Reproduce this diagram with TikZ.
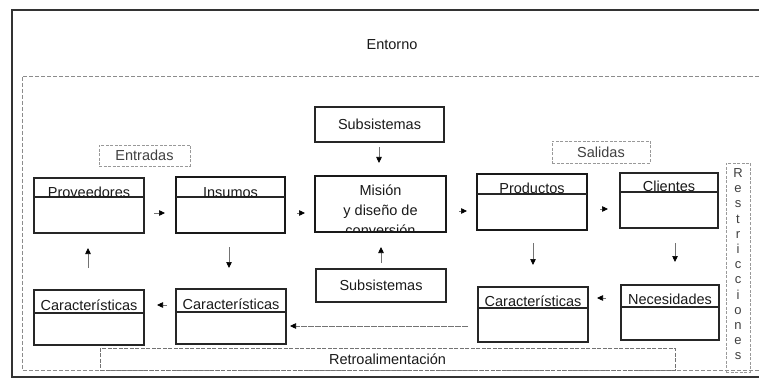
\documentclass[tikz,border=0pt]{standalone}
\usepackage{fontspec}
\setmainfont{Liberation Sans}
\usetikzlibrary{arrows.meta}

\begin{document}
\begin{tikzpicture}[x=1pt,y=-1pt,
  every node/.style={inner sep=0pt, outer sep=0pt, text=black!90,
    font=\fontsize{14.5}{17}\selectfont},
  thinbox/.style={draw=black!85, line width=1.4pt, rectangle},
  midbox/.style={draw=black!85, line width=1.9pt, rectangle},
  thickbox/.style={draw=black!90, line width=2.7pt, rectangle},
  tagbox/.style={draw=black!40, line width=0.8pt, dash pattern=on 3pt off 1.5pt, rectangle, text=black!75},
  divline/.style={draw=black!85, line width=1.3pt},
  band/.style={draw=black!55, line width=0.9pt, dash pattern=on 4pt off 1.5pt, rectangle},
  area/.style={draw=black!45, line width=0.8pt, dash pattern=on 4pt off 2pt},
  arr/.style={draw=black!55, line width=0.7pt, -{Triangle[length=6pt,width=5.5pt,color=black]}}
]
\useasboundingbox (0,0) rectangle (759,379);

% environment frame and inner system area
\draw[black!80, line width=1.5pt] (759,10) -- (12,10) -- (12,377) -- (759,377);
\draw[area] (759,76) -- (22,76) -- (22,370) -- (759,370);
\node (entorno) at (392,45) {Entorno};

% feedback band
\node[band, minimum width=575pt, minimum height=22pt] (retro) at (387.5,359) {Retroalimentación};

% labels
\node[tagbox, minimum width=91pt, minimum height=21pt] (entr) at (144.5,155.5) {Entradas};
\node[tagbox, minimum width=98pt, minimum height=22pt] (sal) at (601,152) {Salidas};
\node[tagbox, minimum width=24pt, minimum height=209pt] (restr) at (738,267.5) {};
\node[anchor=north, align=center, font=\fontsize{13}{15.2}\selectfont, text=black!75] (restrt)
  at ([yshift=-5.5pt]restr.north) {R\\e\\s\\t\\r\\i\\c\\c\\i\\o\\n\\e\\s};

% subsystems
\node[thinbox, minimum width=129pt, minimum height=35pt] (subT) at (379.5,124.5) {Subsistemas};
\node[thinbox, minimum width=130pt, minimum height=33pt] (subB) at (381,285.5) {Subsistemas};

% top row
\node[thinbox, minimum width=110pt, minimum height=55pt] (prov) at (89,205.5) {};
\draw[divline] ([yshift=-19pt]prov.north west) -- ([yshift=-19pt]prov.north east);
\node[anchor=base] (provt) at ([yshift=-19pt]prov.north) {Proveedores};

\node[thickbox, minimum width=109pt, minimum height=56pt] (ins) at (230.5,205) {};
\draw[divline] ([yshift=-20pt]ins.north west) -- ([yshift=-20pt]ins.north east);
\node[anchor=base] (inst) at ([yshift=-20pt]ins.north) {Insumos};

\node[minimum width=131pt, minimum height=56pt] (misarea) at (380.5,204) {};
\begin{scope}
  \clip ([xshift=1.3pt,yshift=1.3pt]misarea.south west) rectangle ([xshift=-1.3pt,yshift=-1.3pt]misarea.north east);
  \node[anchor=north, align=center, font=\fontsize{14.5}{20}\selectfont] (mist)
    at ([yshift=-8.5pt]misarea.north) {Misión\\y diseño de\\conversión};
\end{scope}
\node[thickbox, minimum width=131pt, minimum height=56pt] (mis) at (380.5,204) {};

\node[thickbox, minimum width=110pt, minimum height=56pt] (prod) at (532,202) {};
\draw[divline] ([yshift=-20pt]prod.north west) -- ([yshift=-20pt]prod.north east);
\node[anchor=base] (prodt) at ([yshift=-20pt]prod.north) {Productos};

\node[midbox, minimum width=98pt, minimum height=55pt] (cli) at (669,200.5) {};
\draw[divline] ([yshift=-19pt]cli.north west) -- ([yshift=-19pt]cli.north east);
\node[anchor=base] (clit) at ([yshift=-19pt]cli.north) {Clientes};

% bottom row
\node[midbox, minimum width=110pt, minimum height=55pt] (char1) at (89,317.5) {};
\draw[divline] ([yshift=-23pt]char1.north west) -- ([yshift=-23pt]char1.north east);
\node[anchor=base] (char1t) at ([yshift=-20pt]char1.north) {Características};

\node[midbox, minimum width=110pt, minimum height=55pt] (char2) at (231,316.5) {};
\draw[divline] ([yshift=-23pt]char2.north west) -- ([yshift=-23pt]char2.north east);
\node[anchor=base] (char2t) at ([yshift=-20pt]char2.north) {Características};

\node[midbox, minimum width=110pt, minimum height=55pt] (char3) at (533,314.5) {};
\draw[divline] ([yshift=-21pt]char3.north west) -- ([yshift=-21pt]char3.north east);
\node[anchor=base] (char3t) at ([yshift=-19pt]char3.north) {Características};

\node[midbox, minimum width=98pt, minimum height=55pt] (nec) at (670,312.5) {};
\draw[divline] ([yshift=-22pt]nec.north west) -- ([yshift=-22pt]nec.north east);
\node[anchor=base] (nect) at ([yshift=-19pt]nec.north) {Necesidades};

% flow arrows
\draw[arr, shorten <=10pt, shorten >=11pt] ([yshift=-7.5pt]prov.east) -- ([yshift=-8pt]ins.west);
\draw[arr, shorten <=12pt, shorten >=10pt] ([yshift=-8pt]ins.east) -- ([yshift=-9pt]mis.west);
\draw[arr, shorten <=13pt, shorten >=10pt] ([yshift=-7pt]mis.east) -- ([yshift=-9pt]prod.west);
\draw[arr, shorten <=13pt, shorten >=12pt] ([yshift=-7pt]prod.east) -- ([yshift=-8.5pt]cli.west);
\draw[arr, shorten <=15pt, shorten >=9pt] ([yshift=14.5pt]nec.west) -- ([yshift=16.5pt]char3.east);
\draw[arr, shorten <=9pt, shorten >=13pt] ([yshift=11.5pt]char2.west) -- ([yshift=12.5pt]char1.east);
\draw[arr, dash pattern=on 6pt off 1pt, shorten <=10pt, shorten >=4pt] ([yshift=-11.5pt]char3.west) -- ([yshift=-9.5pt]char2.east);
\draw[arr, shorten <=22pt, shorten >=15pt] ([xshift=-1pt]char1.north) -- ([xshift=-1pt]prov.south);
\draw[arr, shorten <=14pt, shorten >=21pt] ([xshift=-1.5pt]ins.south) -- ([xshift=-2pt]char2.north);
\draw[arr, shorten <=5pt, shorten >=13pt] ([xshift=-0.5pt]subT.south) -- ([xshift=-1.5pt]mis.north);
\draw[arr, shorten <=6pt, shorten >=15pt] (subB.north) -- ([xshift=0.5pt]mis.south);
\draw[arr, shorten <=13pt, shorten >=22pt] ([xshift=1pt]prod.south) -- (char3.north);
\draw[arr, shorten <=15pt, shorten >=23pt] ([xshift=6pt]cli.south) -- ([xshift=5pt]nec.north);
\end{tikzpicture}
\end{document}
